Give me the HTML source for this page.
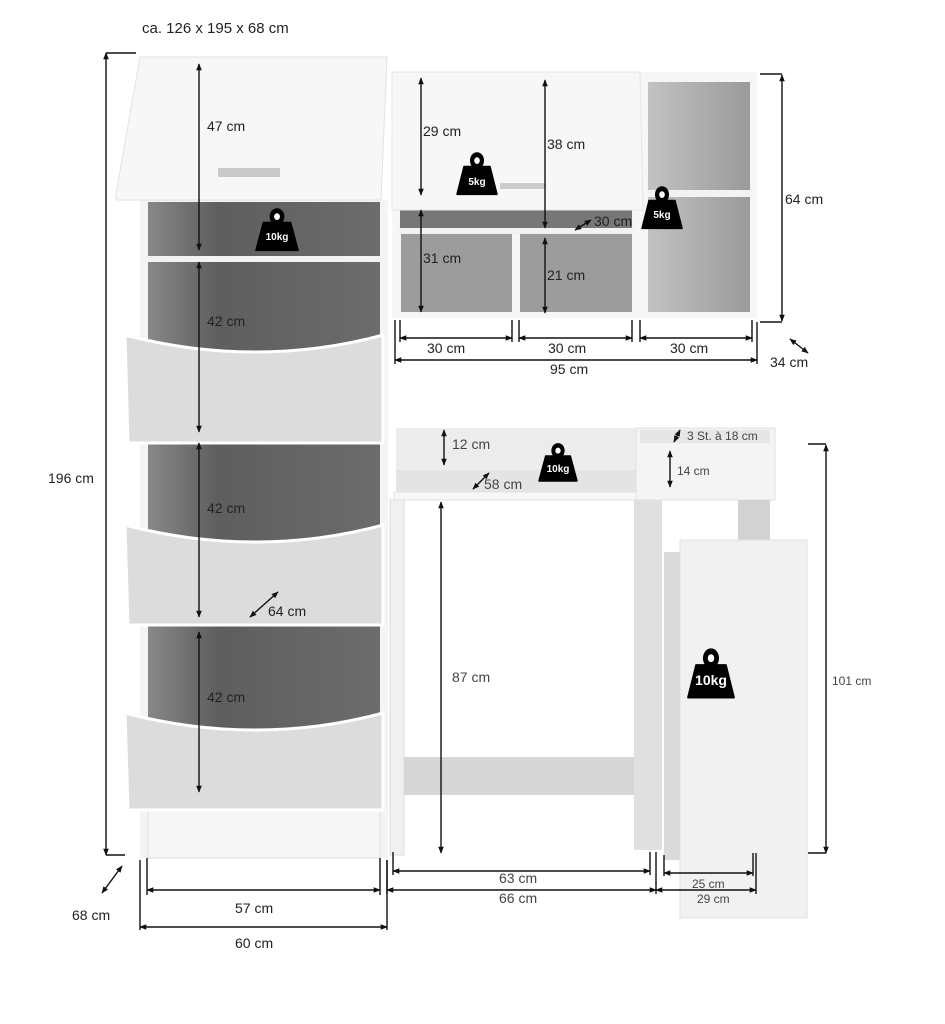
<!DOCTYPE html>
<html><head><meta charset="utf-8"><style>
html,body{margin:0;padding:0;background:#fff}
svg{display:block}
text{font-family:"Liberation Sans",sans-serif;fill:#222}
</style></head><body>
<svg width="945" height="1024" viewBox="0 0 945 1024" xmlns="http://www.w3.org/2000/svg">
<defs>
<marker id="a" viewBox="0 0 10 10" refX="9" refY="5" markerWidth="5" markerHeight="5" orient="auto-start-reverse"><path d="M0,1 L10,5 L0,9 z" fill="#111"/></marker>
<linearGradient id="dk" x1="0" x2="1"><stop offset="0" stop-color="#888"/><stop offset="0.3" stop-color="#5e5e5e"/><stop offset="1" stop-color="#6c6c6c"/></linearGradient>
<linearGradient id="lg" x1="0" x2="1"><stop offset="0" stop-color="#c2c2c2"/><stop offset="1" stop-color="#9a9a9a"/></linearGradient>
<g id="w"><circle cx="20" cy="8" r="7" fill="#000"/><circle cx="20" cy="8" r="2.8" fill="#fff"/><path d="M7,13 L33,13 L40,36 L0,36 Z" fill="#000" stroke="#000" stroke-width="1.5" stroke-linejoin="round"/></g>
</defs>

<!-- LEFT CABINET -->
<rect x="140" y="200" width="248" height="658" fill="#f4f4f4"/>
<rect x="148" y="202" width="232" height="54" fill="url(#dk)"/>
<rect x="146" y="256" width="236" height="6" fill="#f2f2f2"/>
<rect x="148" y="262" width="232" height="181" fill="url(#dk)"/>
<rect x="148" y="443" width="232" height="182" fill="url(#dk)"/>
<rect x="148" y="625" width="232" height="185" fill="url(#dk)"/>
<rect x="148" y="810" width="232" height="48" fill="#f6f6f6" stroke="#ddd"/>
<path d="M125,335 Q190,352 255,352 Q320,352 383,335 L383,443 L128,443 Z" fill="#dcdcdc" stroke="#fff" stroke-width="3"/>
<path d="M125,525 Q190,542 255,542 Q320,542 383,525 L383,625 L128,625 Z" fill="#dcdcdc" stroke="#fff" stroke-width="3"/>
<path d="M125,713 Q190,730 255,730 Q320,730 383,713 L383,810 L128,810 Z" fill="#dcdcdc" stroke="#fff" stroke-width="3"/>
<polygon points="140,57 387,57 381,200 116,200 116,194" fill="#f7f7f7" stroke="#e2e2e2"/>
<rect x="218" y="168" width="62" height="9" fill="#c9c9c9"/>

<!-- TOP RIGHT SHELF -->
<rect x="392" y="72" width="365" height="246" fill="#f6f6f6"/>
<rect x="648" y="82" width="102" height="230" fill="url(#lg)"/>
<rect x="648" y="190" width="102" height="7" fill="#f2f2f2"/>
<rect x="400" y="210" width="232" height="18" fill="#777"/>
<rect x="398" y="228" width="236" height="6" fill="#f2f2f2"/>
<rect x="401" y="234" width="111" height="78" fill="#9c9c9c"/>
<rect x="520" y="234" width="112" height="78" fill="#9c9c9c"/>
<polygon points="392,72 640,72 643,210 392,210" fill="#f7f7f7" stroke="#e4e4e4"/>
<rect x="500" y="183" width="45" height="6" fill="#ccc"/>

<!-- DESK -->
<rect x="396" y="428" width="254" height="44" fill="#ececec"/>
<rect x="396" y="470" width="254" height="22" fill="#e4e4e4"/>
<rect x="394" y="492" width="260" height="8" fill="#f7f7f7" stroke="#e2e2e2"/>
<rect x="636" y="428" width="139" height="72" fill="#f4f4f4" stroke="#e0e0e0"/>
<rect x="640" y="430" width="130" height="13" fill="#e6e6e6"/>
<rect x="390" y="500" width="14" height="355" fill="#f0f0f0" stroke="#ddd"/>
<rect x="404" y="757" width="230" height="38" fill="#d6d6d6"/>
<rect x="634" y="500" width="28" height="350" fill="#e0e0e0"/>
<rect x="738" y="500" width="32" height="40" fill="#d2d2d2"/>
<rect x="664" y="552" width="16" height="308" fill="#dadada"/>
<rect x="680" y="540" width="127" height="378" fill="#f1f1f1" stroke="#e0e0e0"/>

<!-- WEIGHTS -->
<g transform="translate(256,207) scale(1.05,1.2)"><use href="#w"/></g>
<text x="277" y="240" font-size="10" font-weight="bold" text-anchor="middle" style="fill:#fff">10kg</text>
<g transform="translate(457,151) scale(1,1.2)"><use href="#w"/></g>
<text x="477" y="185" font-size="10" font-weight="bold" text-anchor="middle" style="fill:#fff">5kg</text>
<g transform="translate(642,185) scale(1,1.2)"><use href="#w"/></g>
<text x="662" y="218" font-size="10" font-weight="bold" text-anchor="middle" style="fill:#fff">5kg</text>
<g transform="translate(539,442) scale(0.95,1.08)"><use href="#w"/></g>
<text x="558" y="472" font-size="10" font-weight="bold" text-anchor="middle" style="fill:#fff">10kg</text>
<g transform="translate(688,647) scale(1.15,1.4)"><use href="#w"/></g>
<text x="711" y="685" font-size="14" font-weight="bold" text-anchor="middle" style="fill:#fff">10kg</text>

<!-- DIMENSIONS -->
<g stroke="#111" stroke-width="1.4" fill="none">
<line x1="106" y1="53" x2="106" y2="855" marker-start="url(#a)" marker-end="url(#a)"/>
<line x1="106" y1="53" x2="136" y2="53"/><line x1="106" y1="855" x2="125" y2="855"/>
<line x1="199" y1="64" x2="199" y2="250" marker-start="url(#a)" marker-end="url(#a)"/>
<line x1="199" y1="262" x2="199" y2="432" marker-start="url(#a)" marker-end="url(#a)"/>
<line x1="199" y1="443" x2="199" y2="617" marker-start="url(#a)" marker-end="url(#a)"/>
<line x1="199" y1="632" x2="199" y2="792" marker-start="url(#a)" marker-end="url(#a)"/>
<line x1="250" y1="617" x2="278" y2="592" marker-start="url(#a)" marker-end="url(#a)"/>
<line x1="102" y1="893" x2="122" y2="866" marker-start="url(#a)" marker-end="url(#a)"/>
<line x1="147" y1="890" x2="380" y2="890" marker-start="url(#a)" marker-end="url(#a)"/>
<line x1="147" y1="858" x2="147" y2="895"/><line x1="380" y1="858" x2="380" y2="895"/>
<line x1="140" y1="927" x2="387" y2="927" marker-start="url(#a)" marker-end="url(#a)"/>
<line x1="140" y1="860" x2="140" y2="930"/><line x1="387" y1="860" x2="387" y2="930"/>
<line x1="421" y1="78" x2="421" y2="195" marker-start="url(#a)" marker-end="url(#a)"/>
<line x1="421" y1="210" x2="421" y2="312" marker-start="url(#a)" marker-end="url(#a)"/>
<line x1="545" y1="80" x2="545" y2="228" marker-start="url(#a)" marker-end="url(#a)"/>
<line x1="545" y1="238" x2="545" y2="313" marker-start="url(#a)" marker-end="url(#a)"/>
<line x1="575" y1="230" x2="591" y2="220" marker-start="url(#a)" marker-end="url(#a)"/>
<line x1="782" y1="75" x2="782" y2="321" marker-start="url(#a)" marker-end="url(#a)"/>
<line x1="760" y1="74" x2="782" y2="74"/><line x1="760" y1="322" x2="782" y2="322"/>
<line x1="400" y1="338" x2="512" y2="338" marker-start="url(#a)" marker-end="url(#a)"/>
<line x1="519" y1="338" x2="632" y2="338" marker-start="url(#a)" marker-end="url(#a)"/>
<line x1="640" y1="338" x2="752" y2="338" marker-start="url(#a)" marker-end="url(#a)"/>
<line x1="400" y1="320" x2="400" y2="342"/><line x1="512" y1="320" x2="512" y2="342"/>
<line x1="519" y1="320" x2="519" y2="342"/><line x1="632" y1="320" x2="632" y2="342"/>
<line x1="640" y1="320" x2="640" y2="342"/><line x1="752" y1="320" x2="752" y2="342"/>
<line x1="395" y1="360" x2="757" y2="360" marker-start="url(#a)" marker-end="url(#a)"/>
<line x1="395" y1="320" x2="395" y2="364"/><line x1="757" y1="322" x2="757" y2="364"/>
<line x1="790" y1="339" x2="808" y2="353" marker-start="url(#a)" marker-end="url(#a)"/>
<line x1="444" y1="430" x2="444" y2="465" marker-start="url(#a)" marker-end="url(#a)"/>
<line x1="473" y1="489" x2="489" y2="473" marker-start="url(#a)" marker-end="url(#a)"/>
<line x1="674" y1="442" x2="680" y2="430" marker-start="url(#a)" marker-end="url(#a)"/>
<line x1="670" y1="451" x2="670" y2="487" marker-start="url(#a)" marker-end="url(#a)"/>
<line x1="826" y1="445" x2="826" y2="853" marker-start="url(#a)" marker-end="url(#a)"/>
<line x1="808" y1="444" x2="826" y2="444"/><line x1="808" y1="853" x2="826" y2="853"/>
<line x1="441" y1="502" x2="441" y2="853" marker-start="url(#a)" marker-end="url(#a)"/>
<line x1="393" y1="871" x2="650" y2="871" marker-start="url(#a)" marker-end="url(#a)"/>
<line x1="393" y1="852" x2="393" y2="875"/><line x1="650" y1="852" x2="650" y2="875"/>
<line x1="387" y1="890" x2="656" y2="890" marker-start="url(#a)" marker-end="url(#a)"/>
<line x1="387" y1="860" x2="387" y2="894"/><line x1="656" y1="852" x2="656" y2="894"/>
<line x1="664" y1="873" x2="753" y2="873" marker-start="url(#a)" marker-end="url(#a)"/>
<line x1="664" y1="855" x2="664" y2="876"/><line x1="753" y1="853" x2="753" y2="876"/>
<line x1="656" y1="890" x2="756" y2="890" marker-start="url(#a)" marker-end="url(#a)"/>
<line x1="756" y1="853" x2="756" y2="894"/>
</g>

<g font-size="14">
<text x="142" y="33" font-size="15">ca. 126 x 195 x 68 cm</text>
<text x="48" y="483">196 cm</text>
<text x="207" y="131">47 cm</text>
<text x="207" y="326">42 cm</text>
<text x="207" y="513">42 cm</text>
<text x="207" y="702">42 cm</text>
<text x="268" y="616">64 cm</text>
<text x="72" y="920">68 cm</text>
<text x="235" y="913">57 cm</text>
<text x="235" y="948">60 cm</text>
<text x="423" y="136">29 cm</text>
<text x="423" y="263">31 cm</text>
<text x="547" y="149">38 cm</text>
<text x="547" y="280">21 cm</text>
<text x="594" y="226">30 cm</text>
<text x="785" y="204">64 cm</text>
<text x="427" y="353">30 cm</text>
<text x="548" y="353">30 cm</text>
<text x="670" y="353">30 cm</text>
<text x="550" y="374">95 cm</text>
<text x="770" y="367">34 cm</text>
<text x="452" y="449" style="fill:#444">12 cm</text>
<text x="484" y="489" style="fill:#444">58 cm</text>
<text x="687" y="440" font-size="12" style="fill:#444">3 St. à 18 cm</text>
<text x="677" y="475" font-size="12" style="fill:#444">14 cm</text>
<text x="832" y="685" font-size="12" style="fill:#444">101 cm</text>
<text x="452" y="682" style="fill:#444">87 cm</text>
<text x="499" y="883" style="fill:#444">63 cm</text>
<text x="499" y="903" style="fill:#444">66 cm</text>
<text x="692" y="888" font-size="12" style="fill:#444">25 cm</text>
<text x="697" y="903" font-size="12" style="fill:#444">29 cm</text>
</g>
</svg>
</body></html>
